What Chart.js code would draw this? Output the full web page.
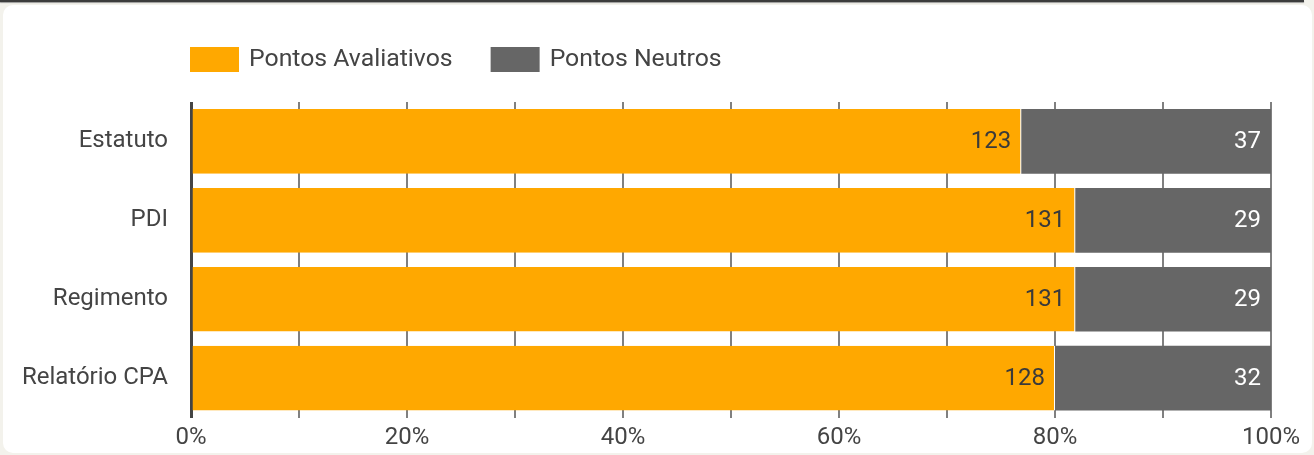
<!DOCTYPE html>
<html>
<head>
<meta charset="utf-8">
<script src="https://cdn.jsdelivr.net/npm/chart.js@4"></script>
<style>
  html, body { margin: 0; padding: 0; width: 1314px; height: 455px; overflow: hidden; background: #f3f2ec; }
  #topbar { position: absolute; left: 0; top: 0; width: 1304px; height: 2px; background: #3c3c3c; box-shadow: 0 1px 1px #999; }
  #card { position: absolute; left: 3px; top: 5px; width: 1309px; height: 448px; background: #fff; border-radius: 10px; }
  #wrap { position: absolute; left: 0; top: 0; width: 1314px; height: 455px; }
</style>
</head>
<body>
<div id="topbar"></div>
<div id="card"></div>
<div id="wrap"><canvas id="chartCanvas" width="1314" height="455"></canvas></div>
<script>
const categories = ["Estatuto", "PDI", "Regimento", "Relatório CPA"];
const seriesNames = ["Pontos Avaliativos", "Pontos Neutros"];
const avaliativos = [123, 131, 131, 128];
const neutros = [37, 29, 29, 32];
const tickLabels = ["0%", "20%", "40%", "60%", "80%", "100%"];

const colors = ["#ffa800", "#666666"];
const labelColors = ["#3a3a3a", "#ffffff"];
const rawSeries = [avaliativos, neutros];
const fontSize = 24;

// stacked to 100%
function toPercent(arr) {
  return arr.map((v, i) => v / (avaliativos[i] + neutros[i]) * 100);
}

const valueLabels = {
  id: "valueLabels",
  afterDatasetsDraw(chart) {
    const ctx = chart.ctx;
    ctx.save();
    ctx.font = fontSize + "px Roboto";
    ctx.textAlign = "right";
    ctx.textBaseline = "middle";
    chart.data.datasets.forEach((ds, di) => {
      const meta = chart.getDatasetMeta(di);
      meta.data.forEach((bar, i) => {
        const p = bar.getProps(["x", "y"], true);
        ctx.fillStyle = labelColors[di];
        ctx.fillText(String(rawSeries[di][i]), p.x - 10, p.y + 1);
      });
    });
    ctx.restore();
  }
};

const topLegend = {
  id: "topLegend",
  afterDraw(chart) {
    const ctx = chart.ctx;
    ctx.save();
    ctx.font = "24.8px Roboto";
    ctx.textBaseline = "middle";
    ctx.textAlign = "left";
    let x = chart.chartArea.left - 1;
    seriesNames.forEach((name, i) => {
      ctx.fillStyle = colors[i];
      ctx.fillRect(x, 47, 49, 25);
      ctx.fillStyle = "#444444";
      ctx.fillText(name, x + 59, 60);
      x += 59 + ctx.measureText(name).width + 38;
    });
    ctx.restore();
  }
};

const ctx = document.getElementById("chartCanvas").getContext("2d");
const chart = new Chart(ctx, {
  type: "bar",
  data: {
    labels: categories,
    datasets: [
      {
        label: seriesNames[0],
        data: toPercent(avaliativos),
        backgroundColor: colors[0],
        borderColor: "#ffffff",
        borderWidth: { right: 1, left: 0, top: 0, bottom: 0 },
        borderSkipped: false,
        barPercentage: 0.82,
        categoryPercentage: 1
      },
      {
        label: seriesNames[1],
        data: toPercent(neutros),
        backgroundColor: colors[1],
        borderWidth: 0,
        barPercentage: 0.82,
        categoryPercentage: 1
      }
    ]
  },
  options: {
    indexAxis: "y",
    responsive: false,
    animation: false,
    layout: { padding: { left: 0, right: 43, top: 102, bottom: 0 } },
    plugins: {
      legend: { display: false },
      tooltip: { enabled: false }
    },
    scales: {
      x: {
        stacked: true,
        min: 0,
        max: 100,
        afterFit: s => { s.height = 37; },
        ticks: {
          stepSize: 10,
          autoSkip: false,
          maxRotation: 0,
          padding: 6,
          color: "#444444",
          font: { family: "Roboto", size: fontSize },
          callback: v => (v % 20 === 0 ? tickLabels[v / 20] : "")
        },
        grid: {
          drawTicks: false,
          color: c => (c.tick && c.tick.value === 0 ? "#444444" : "#808080"),
          lineWidth: c => (c.tick && c.tick.value === 0 ? 3 : 2)
        },
        border: { display: false }
      },
      y: {
        stacked: true,
        afterFit: s => { s.width = 191; },
        ticks: {
          padding: 23,
          color: "#444444",
          font: { family: "Roboto", size: fontSize }
        },
        grid: { display: false, drawTicks: false },
        border: { display: false }
      }
    }
  },
  plugins: [valueLabels, topLegend]
});
</script>
</body>
</html>
